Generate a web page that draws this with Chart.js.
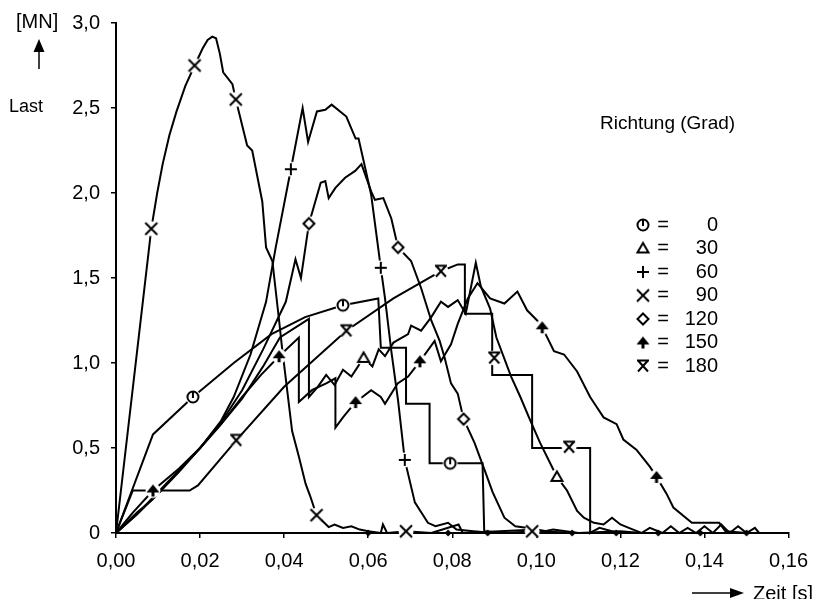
<!DOCTYPE html>
<html>
<head>
<meta charset="utf-8">
<script src="https://cdn.jsdelivr.net/npm/chart.js@4"></script>
<style>
  html, body { margin: 0; padding: 0; background: #fff; }
  #wrap { width: 819px; height: 599px; }
</style>
</head>
<body>
<div id="wrap"><canvas id="myChart" width="819" height="599"></canvas></div>
<script>
// Richtung (Grad)
const richtungen = ['0', '30', '60', '90', '120', '150', '180'];

const xTickLabels = ['0,00', '0,02', '0,04', '0,06', '0,08', '0,10', '0,12', '0,14', '0,16'];
const yTickLabels = ['0', '0,5', '1,0', '1,5', '2,0', '2,5', '3,0'];

// Kurven [Zeit s, Last MN]
const kurve0 = [[0,0],[0.0088,0.58],[0.0183,0.80],[0.028,1.0],[0.037,1.17],[0.045,1.27],[0.054,1.34],[0.0624,1.38],
  [0.063,1.09],[0.069,1.09],[0.069,0.76],[0.0746,0.76],[0.0746,0.41],[0.0872,0.41],[0.0876,0.01],[0.092,0],[0.1,0.01],[0.11,0]];

const kurve30 = [[0,0],[0.005,0.11],[0.01,0.23],[0.015,0.37],[0.02,0.5],[0.025,0.64],[0.03,0.79],[0.035,0.98],[0.039,1.15],
  [0.0459,1.26],[0.0459,0.80],[0.048,0.86],[0.050,0.93],[0.052,0.87],[0.054,0.96],[0.056,0.92],[0.0589,1.03],[0.061,0.98],
  [0.0625,1.08],[0.064,1.04],[0.066,1.12],[0.0695,1.17],[0.0702,1.22],[0.0726,1.19],[0.075,1.27],[0.0773,1.36],[0.079,1.33],
  [0.0813,1.37],[0.0832,1.29],[0.0856,1.59],[0.0868,1.45],[0.089,1.32],[0.0905,1.15],[0.094,0.92],[0.0962,0.80],[0.0986,0.66],
  [0.1009,0.53],[0.1033,0.41],[0.1049,0.33],[0.1073,0.25],[0.1097,0.13],[0.1113,0.09],[0.1137,0.06],[0.116,0.05],[0.118,0.09],
  [0.12,0.05],[0.122,0.03],[0.125,0],[0.127,0.03],[0.13,0],[0.132,0.04],[0.134,0],[0.136,0.03],[0.138,0],[0.14,0.04],[0.142,0],
  [0.144,0.05],[0.146,0],[0.148,0.04],[0.15,0],[0.152,0.03],[0.153,0]];

const kurve60 = [[0,0],[0.005,0.12],[0.0088,0.2],[0.015,0.36],[0.02,0.5],[0.025,0.66],[0.028,0.8],[0.032,1.05],[0.0357,1.36],
  [0.038,1.68],[0.0416,2.14],[0.0444,2.50],[0.0457,2.30],[0.0478,2.48],[0.0498,2.49],[0.0513,2.52],[0.0548,2.45],[0.057,2.32],
  [0.0577,2.32],[0.0589,2.19],[0.0607,1.99],[0.063,1.56],[0.064,1.38],[0.0655,1.07],[0.0671,0.78],[0.0687,0.43],[0.0711,0.18],
  [0.0742,0.06],[0.076,0.04],[0.079,0.06],[0.081,0.02],[0.085,0.01],[0.09,0]];

const kurve90 = [[0,0],[0.0084,1.79],[0.0098,2.0],[0.0111,2.17],[0.0127,2.34],[0.0144,2.48],[0.0165,2.63],[0.0187,2.75],
  [0.0206,2.85],[0.0218,2.9],[0.0229,2.92],[0.0238,2.91],[0.0247,2.82],[0.0255,2.71],[0.0277,2.64],[0.0285,2.55],[0.0312,2.28],
  [0.0324,2.25],[0.0348,1.95],[0.0357,1.68],[0.0372,1.60],[0.0388,1.25],[0.0395,1.09],[0.0419,0.60],[0.0435,0.45],[0.0451,0.29],
  [0.0463,0.21],[0.0477,0.105],[0.0506,0.035],[0.052,0.05],[0.054,0.03],[0.056,0.04],[0.058,0.02],[0.06,0.01],[0.063,0],
  [0.0635,0.05],[0.0645,0],[0.069,0.01],[0.075,0],[0.0815,0.05],[0.0825,0],[0.1,0.02],[0.105,0]];

const kurve120 = [[0,0],[0.005,0.11],[0.01,0.24],[0.015,0.37],[0.02,0.5],[0.025,0.65],[0.03,0.84],[0.035,1.08],[0.0404,1.36],
  [0.0427,1.61],[0.044,1.50],[0.0459,1.82],[0.0487,2.06],[0.0498,2.07],[0.0506,1.97],[0.0522,2.03],[0.0545,2.09],[0.0569,2.13],
  [0.0584,2.17],[0.0607,2.01],[0.0616,1.96],[0.0636,1.97],[0.0655,1.85],[0.0671,1.68],[0.0702,1.60],[0.0726,1.44],[0.075,1.25],
  [0.077,1.13],[0.0782,1.03],[0.0797,0.88],[0.0813,0.82],[0.0827,0.67],[0.0853,0.53],[0.0877,0.37],[0.0896,0.24],[0.0924,0.09],
  [0.095,0.04],[0.098,0.03],[0.1,0],[0.104,0.02],[0.11,0],[0.12,0.01],[0.125,0]];

const kurve150 = [[0,0],[0.004,0.12],[0.0088,0.25],[0.015,0.38],[0.02,0.5],[0.025,0.64],[0.03,0.8],[0.0345,0.93],[0.0388,1.04],
  [0.0435,1.15],[0.0435,0.77],[0.0466,0.84],[0.05,0.88],[0.0522,0.91],[0.0522,0.62],[0.054,0.68],[0.056,0.74],[0.057,0.77],
  [0.0607,0.84],[0.063,0.80],[0.064,0.76],[0.067,0.88],[0.0695,0.92],[0.0723,1.01],[0.0758,1.13],[0.0773,1.01],[0.0797,1.11],
  [0.0813,1.23],[0.0837,1.38],[0.086,1.47],[0.089,1.38],[0.0924,1.35],[0.0955,1.42],[0.0978,1.31],[0.1002,1.25],[0.1014,1.21],
  [0.1042,1.07],[0.1066,1.05],[0.1097,0.95],[0.1128,0.80],[0.1144,0.74],[0.116,0.68],[0.1191,0.64],[0.1207,0.55],[0.1238,0.49],
  [0.127,0.39],[0.1286,0.33],[0.131,0.23],[0.1326,0.15],[0.137,0.06],[0.1435,0.06],[0.145,0.01],[0.15,0]];

const kurve180 = [[0,0],[0.004,0.25],[0.0175,0.25],[0.0195,0.28],[0.0286,0.545],[0.04,0.86],[0.0548,1.19],[0.066,1.38],
  [0.0773,1.54],[0.0813,1.58],[0.083,1.58],[0.083,1.29],[0.0895,1.29],[0.0895,0.93],[0.099,0.93],[0.099,0.5],[0.1128,0.5],
  [0.1128,0],[0.115,0.03],[0.118,0.01],[0.12,0]];

// Markierungen
const marker0 = [[0.0183,0.80],[0.054,1.34],[0.0795,0.41]];
const marker30 = [[0.0589,1.03],[0.1049,0.33]];
const marker60 = [[0.0416,2.14],[0.063,1.56],[0.0687,0.43]];
const marker90 = [[0.0084,1.79],[0.0187,2.75],[0.0285,2.55],[0.0477,0.105],[0.069,0.01],[0.099,0.01]];
const marker120 = [[0.0459,1.82],[0.0671,1.68],[0.0827,0.67]];
const marker150 = [[0.0088,0.25],[0.0388,1.04],[0.057,0.77],[0.0723,1.01],[0.1014,1.21],[0.1286,0.33]];
const marker180 = [[0.0286,0.545],[0.0548,1.19],[0.0773,1.54],[0.09,1.03],[0.1078,0.505]];
const nullPunkte = [[0.06,0],[0.079,0],[0.0884,0],[0.1085,0],[0.119,0],[0.129,0],[0.139,0],[0.15,0]];

const kurven = [kurve0, kurve30, kurve60, kurve90, kurve120, kurve150, kurve180];
const markerListen = [marker0, marker30, marker60, marker90, marker120, marker150, marker180];
const symbole = ['kreis', 'dreieck', 'plus', 'kreuz', 'raute', 'pfeil', 'sanduhr'];

function makeMarker(typ, hintergrund) {
  const c = document.createElement('canvas');
  c.width = 18; c.height = 18;
  const g = c.getContext('2d');
  g.translate(9, 9);
  if (hintergrund) {
    g.fillStyle = '#fff';
    g.beginPath(); g.arc(0, 0, 7.5, 0, Math.PI * 2); g.fill();
  }
  g.strokeStyle = '#000'; g.fillStyle = '#000'; g.lineWidth = 2;
  g.beginPath();
  if (typ === 'kreis') {
    g.arc(0, 0, 5.5, 0, Math.PI * 2);
    g.moveTo(0, -5.5); g.lineTo(0, 1);
    g.stroke();
  } else if (typ === 'dreieck') {
    g.moveTo(0, -5.5); g.lineTo(5.5, 4); g.lineTo(-5.5, 4); g.closePath();
    g.stroke();
  } else if (typ === 'plus') {
    g.moveTo(-6, 0); g.lineTo(6, 0); g.moveTo(0, -6); g.lineTo(0, 6);
    g.stroke();
  } else if (typ === 'kreuz') {
    g.moveTo(-6, -6); g.lineTo(6, 6); g.moveTo(6, -6); g.lineTo(-6, 6);
    g.stroke();
  } else if (typ === 'raute') {
    g.moveTo(0, -5.5); g.lineTo(5.5, 0); g.lineTo(0, 5.5); g.lineTo(-5.5, 0); g.closePath();
    g.stroke();
  } else if (typ === 'pfeil') {
    g.moveTo(0, -6); g.lineTo(6.5, 2); g.lineTo(-6.5, 2); g.closePath();
    g.fill();
    g.fillRect(-1.5, 1, 3, 5);
  } else if (typ === 'sanduhr') {
    g.moveTo(-6, -5.5); g.lineTo(6, -5.5);
    g.moveTo(-5, -5.5); g.lineTo(5, 5.5); g.moveTo(5, -5.5); g.lineTo(-5, 5.5);
    g.stroke();
  } else if (typ === 'punkt') {
    g.moveTo(0, -3.5); g.lineTo(3.5, 0); g.lineTo(0, 3.5); g.lineTo(-3.5, 0); g.closePath();
    g.fill();
  }
  return c;
}

const datasets = [];
kurven.forEach(function (k, i) {
  datasets.push({
    label: richtungen[i],
    data: k,
    showLine: true,
    borderColor: '#000',
    borderWidth: 2,
    pointRadius: 0,
    tension: 0,
    clip: false,
    order: 2
  });
});
markerListen.forEach(function (m, i) {
  datasets.push({
    label: richtungen[i] + ' Marker',
    data: m,
    showLine: false,
    pointStyle: makeMarker(symbole[i], true),
    pointRadius: 6,
    clip: false,
    order: 1
  });
});
datasets.push({
  label: 'Null',
  data: nullPunkte,
  showLine: false,
  pointStyle: makeMarker('punkt', false),
  pointRadius: 4,
  clip: false,
  order: 1
});

const FONT = '"Liberation Sans", Arial, Helvetica, sans-serif';

const beschriftung = {
  id: 'beschriftung',
  afterDraw(chart) {
    const ctx = chart.ctx;
    ctx.save();
    ctx.fillStyle = '#000';
    ctx.strokeStyle = '#000';
    ctx.textBaseline = 'middle';
    ctx.textAlign = 'left';
    ctx.font = '20px ' + FONT;
    ctx.fillText('[MN]', 16, 22);
    // Pfeil nach oben
    ctx.lineWidth = 1.5;
    ctx.beginPath(); ctx.moveTo(39, 50); ctx.lineTo(39, 69); ctx.stroke();
    ctx.beginPath(); ctx.moveTo(39, 39); ctx.lineTo(44.5, 52); ctx.lineTo(33.5, 52); ctx.closePath(); ctx.fill();
    ctx.font = '18px ' + FONT;
    ctx.fillText('Last', 9, 107);
    ctx.font = '19px ' + FONT;
    ctx.fillText('Richtung (Grad)', 600, 124);
    // Legende
    ctx.font = '20px ' + FONT;
    for (let i = 0; i < richtungen.length; i++) {
      const y = 225 + i * 23.5;
      ctx.drawImage(makeMarker(symbole[i], false), 643 - 9, y - 9);
      ctx.textAlign = 'center';
      ctx.fillText('=', 663, y);
      ctx.textAlign = 'right';
      ctx.fillText(richtungen[i], 718, y);
    }
    // Zeit
    ctx.textAlign = 'left';
    ctx.textBaseline = 'top';
    ctx.fillText('Zeit [s]', 753, 584);
    ctx.lineWidth = 1.5;
    ctx.beginPath(); ctx.moveTo(692, 593); ctx.lineTo(732, 593); ctx.stroke();
    ctx.beginPath(); ctx.moveTo(744, 593); ctx.lineTo(730, 588); ctx.lineTo(730, 598); ctx.closePath(); ctx.fill();
    ctx.restore();
  }
};

const config = {
  type: 'scatter',
  data: { datasets: datasets },
  options: {
    responsive: false,
    animation: false,
    layout: { padding: { top: 21, right: 26, left: 0, bottom: 0 } },
    plugins: {
      legend: { display: false },
      tooltip: { enabled: false }
    },
    scales: {
      x: {
        type: 'linear',
        min: 0,
        max: 0.16,
        afterFit: function (s) { s.height = 66; },
        afterBuildTicks: function (s) {
          s.ticks = xTickLabels.map(function (t, i) { return { value: i * 0.02 }; });
        },
        border: { color: '#000', width: 2 },
        grid: { drawOnChartArea: false, color: '#000', lineWidth: 1.5, tickLength: 5 },
        ticks: {
          color: '#000',
          font: { size: 20, family: FONT },
          padding: 11,
          maxRotation: 0,
          callback: function (v, i) { return xTickLabels[i]; }
        }
      },
      y: {
        min: 0,
        max: 3,
        afterFit: function (s) { s.width = 116; },
        afterBuildTicks: function (s) {
          s.ticks = yTickLabels.map(function (t, i) { return { value: i * 0.5 }; });
        },
        border: { color: '#000', width: 2 },
        grid: { drawOnChartArea: false, color: '#000', lineWidth: 1.5, tickLength: 5 },
        ticks: {
          color: '#000',
          font: { size: 20, family: FONT },
          padding: 11,
          callback: function (v, i) { return yTickLabels[i]; }
        }
      }
    }
  },
  plugins: [beschriftung]
};

var myChart = new Chart(document.getElementById('myChart'), config);
</script>
</body>
</html>
